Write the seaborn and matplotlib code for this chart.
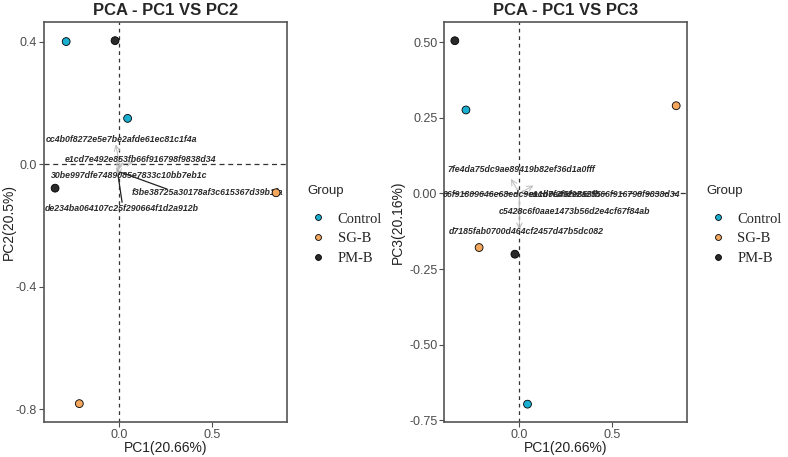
import matplotlib
matplotlib.use("Agg")
import matplotlib.pyplot as plt
import seaborn as sns
import pandas as pd

# sample scores
groups = ["Control", "Control", "SG-B", "SG-B", "PM-B", "PM-B"]
pc1 = [-0.288, 0.044, -0.217, 0.846, -0.348, -0.024]
pc2 = [0.401, 0.150, -0.782, -0.093, -0.078, 0.404]
pc3 = [0.276, -0.697, -0.179, 0.290, 0.505, -0.201]

group_order = ["Control", "SG-B", "PM-B"]
group_colors = ["#1AAFD0", "#F2A65E", "#2A2A2A"]

# loadings panel 1 (PC1 vs PC2)
feat12 = ["cc4b0f8272e5e7be2afde61ec81c1f4a", "e1cd7e492e853fb66f916798f9838d34",
          "30be997dfe7489085e7833c10bb7eb1c", "f3be38725a30178af3c615367d39b1fa",
          "de234ba064107c25f290664f1d2a912b"]
load12_x = [-0.02, 0.075, -0.004, -0.012, -0.008]
load12_y = [0.065, 0.006, -0.015, -0.022, -0.035]
lab12_x = [0.012, 0.111, 0.050, 0.477, 0.014]
lab12_y = [0.082, 0.017, -0.038, -0.093, -0.144]
seg12 = [False, False, False, True, True]

# loadings panel 2 (PC1 vs PC3)
feat13 = ["7fe4da75dc9ae89419b82ef36d1a0fff", "06f91809646e68edc9ea1b0f2f6f92a255",
          "e1cd7e492e853fb66f916798f9838d34", "c5428c6f0aae1473b56d2e4cf67f84ab",
          "d7185fab0700d464cf2457d47b5dc082"]
load13_x = [-0.045, -0.004, 0.076, 0.0, 0.0]
load13_y = [0.048, -0.008, 0.026, -0.075, -0.12]
lab13_x = [0.009, 0.012, 0.457, 0.297, 0.036]
lab13_y = [0.080, -0.003, -0.003, -0.061, -0.127]
seg13 = [False, False, False, False, False]

df = pd.DataFrame({"PC1": pc1, "PC2": pc2, "PC3": pc3, "Group": groups})

sns.set_style("white")
plt.rcParams["font.family"] = ["Liberation Sans", "DejaVu Sans"]

fig = plt.figure(figsize=(7.88, 4.57), dpi=100)
ax1 = fig.add_axes([0.0558, 0.0766, 0.3084, 0.8753])
ax2 = fig.add_axes([0.5638, 0.0766, 0.3077, 0.8753])


def draw(ax, ycol, title, ylabel, feats, lx, ly, tx, ty, segs, xlim, ylim, yticks,
         leg_x, ylab_x):
    ax.axhline(0, color="#333333", lw=0.9, ls=(0, (4, 3)), zorder=1)
    ax.axvline(0, color="#333333", lw=0.9, ls=(0, (3, 3)), zorder=1)
    for i in range(len(feats)):
        ax.annotate("", xy=(lx[i], ly[i]), xytext=(0, 0),
                    arrowprops=dict(arrowstyle="->", color="#bdbdbd", lw=0.7,
                                    shrinkA=0, shrinkB=0), zorder=2)
        if segs[i]:
            ax.plot([lx[i], tx[i] - 0.22 if tx[i] > 0.2 else tx[i]],
                    [ly[i], ty[i] + 0.012 if tx[i] > 0.2 else ty[i] + 0.02],
                    color="#222222", lw=0.9, zorder=2)
        ax.text(tx[i], ty[i], feats[i], fontsize=6.3, fontstyle="italic",
                fontweight="bold", color="#2b2b2b", ha="center", va="center", zorder=3)
    sns.scatterplot(data=df, x="PC1", y=ycol, hue="Group", hue_order=group_order,
                    palette=group_colors, s=32, edgecolor="black", linewidth=0.6,
                    ax=ax, zorder=4)
    ax.set_xlim(*xlim)
    ax.set_ylim(*ylim)
    ax.set_xticks([0.0, 0.5])
    ax.set_xticklabels(["0.0", "0.5"])
    ax.set_yticks(yticks)
    ax.set_yticklabels([f"{v:.1f}" if len(yticks) < 5 else f"{v:.2f}" for v in yticks])
    ax.tick_params(axis="both", labelsize=9, labelcolor="#4d4d4d", color="#4d4d4d",
                   length=3.5, width=0.8, direction="out", left=True, bottom=True, pad=1.5)
    for sp in ax.spines.values():
        sp.set_color("#555555")
        sp.set_linewidth(1.2)
    ax.set_title(title, fontsize=12, fontweight="bold", pad=5)
    ax.set_xlabel("PC1(20.66%)", fontsize=10, color="#222222", va="center")
    ax.set_ylabel(ylabel, fontsize=10, color="#222222", va="center")
    ax.xaxis.set_label_coords(0.5, -0.065)
    ax.yaxis.set_label_coords(ylab_x, 0.5)
    leg = ax.legend(title="Group", loc="upper left", bbox_to_anchor=(leg_x, 0.595),
                    bbox_transform=fig.transFigure, frameon=False, borderpad=0,
                    borderaxespad=0, markerscale=0.75, handlelength=1.5,
                    handletextpad=0.6, labelspacing=0.45, alignment="left",
                    prop={"family": "Liberation Serif", "size": 10.5})
    leg.get_title().set_fontsize(9.5)
    leg.get_title().set_fontfamily("Liberation Sans")
    leg._legend_box.sep = 11


draw(ax1, "PC2", "PCA - PC1 VS PC2", "PC2(20.5%)", feat12, load12_x, load12_y,
     lab12_x, lab12_y, seg12, (-0.408, 0.905), (-0.842, 0.465), [-0.8, -0.4, 0.0, 0.4],
     0.3896, -0.144)
draw(ax2, "PC3", "PCA - PC1 VS PC3", "PC3(20.16%)", feat13, load13_x, load13_y,
     lab13_x, lab13_y, seg13, (-0.405, 0.903), (-0.756, 0.567),
     [-0.75, -0.50, -0.25, 0.0, 0.25, 0.50], 0.8968, -0.191)

fig.savefig("out.png", dpi=100)
